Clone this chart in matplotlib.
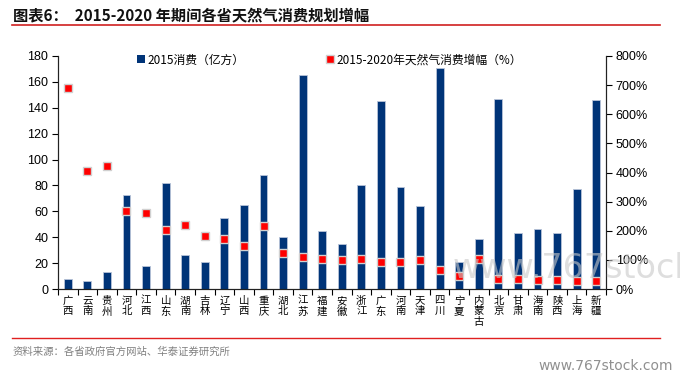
import numpy as np
import matplotlib
matplotlib.use("Agg")
import matplotlib.pyplot as plt
from matplotlib.patches import Rectangle
from matplotlib.lines import Line2D

plt.rcParams['font.family'] = ['Liberation Sans', 'Noto Sans CJK SC', 'DejaVu Sans']
cjk = ['Noto Sans CJK SC', 'DejaVu Sans']

provinces = ['广西', '云南', '贵州', '河北', '江西', '山东', '湖南', '吉林', '辽宁', '山西',
             '重庆', '湖北', '江苏', '福建', '安徽', '浙江', '广东', '河南', '天津', '四川',
             '宁夏', '内蒙古', '北京', '甘肃', '海南', '陕西', '上海', '新疆']
consumption_2015 = [8, 6, 13, 73, 18, 82, 26.5, 21, 55, 65,
                    88, 40, 165, 45, 34.5, 80, 145, 78.5, 64, 171,
                    20.5, 39, 146.5, 43, 46, 43, 77, 146]
growth_pct = [690, 404, 424, 269, 260, 204, 221, 181, 170, 146,
              218, 124, 111, 103, 101, 102, 93, 91, 101, 64,
              46, 104, 36, 34, 32, 32, 28, 26]

navy = '#003478'
red = '#ff0000'

fig = plt.figure(figsize=(6.8, 3.78), dpi=100)
ax = fig.add_axes([58/680, 1-289/378, 548/680, 233/378])
ax2 = ax.twinx()

x = np.arange(len(provinces))
ax.bar(x, consumption_2015, width=0.4, color=navy, edgecolor='#b8c4d8', linewidth=0.6, zorder=2)
ax2.plot(x, np.array(growth_pct) / 100, linestyle='none', marker='s', markersize=6,
         markerfacecolor=red, markeredgecolor='#d0d0d0', markeredgewidth=1.0, zorder=3)

ax.set_xlim(-0.5, len(provinces) - 0.5)
ax.set_ylim(0, 180)
ax.set_yticks(np.arange(0, 181, 20))
ax2.set_ylim(0, 8)
ax2.set_yticks(np.arange(0, 9, 1))
ax2.set_yticklabels([f'{v*100}%' for v in range(0, 9)])

ax.set_xticks(x)
ax.set_xticklabels(['\n'.join(p) for p in provinces], family=cjk, fontsize=7.5,
                   linespacing=1.05, va='top')
ax.set_xticks(np.arange(-0.5, len(provinces), 1), minor=True)
ax.tick_params(axis='x', which='major', length=0, pad=5)
ax.tick_params(axis='x', which='minor', length=4, direction='out', width=0.8)
ax.tick_params(axis='y', length=4, direction='out', width=0.8, labelsize=9, pad=3)
ax2.tick_params(axis='y', length=4, direction='out', width=0.8, labelsize=9, pad=3)

for a in (ax, ax2):
    a.spines['top'].set_visible(False)
    for s in ('left', 'right', 'bottom'):
        a.spines[s].set_color('#222222')
        a.spines[s].set_linewidth(0.8)

handles = [Rectangle((0, 0), 1, 1, facecolor=navy, edgecolor='none'),
           Line2D([], [], linestyle='none', marker='s', markersize=6,
                  markerfacecolor=red, markeredgecolor='#d0d0d0')]
labels = ['2015消费（亿方）', '2015-2020年天然气消费增幅（%）']
leg = ax.legend(handles, labels, ncol=2, frameon=False, loc='lower left',
                bbox_to_anchor=(0.135, 0.935), handlelength=0.7, handleheight=0.7,
                handletextpad=0.2, columnspacing=6.9, prop={'family': cjk, 'size': 8.5},
                borderaxespad=0)

# title and rules
fig.text(13/680, 1-15/378, '图表6：  2015-2020 年期间各省天然气消费规划增幅',
         family=cjk, fontsize=11, fontweight='bold', va='center', ha='left', color='#111111')
fig.add_artist(Line2D([12/680, 660/680], [1-25/378, 1-25/378], color='#d02020', linewidth=1.2))
fig.add_artist(Line2D([12/680, 660/680], [1-338/378, 1-338/378], color='#e02020', linewidth=1.0))
fig.text(13/680, 1-352/378, '资料来源：各省政府官方网站、华泰证券研究所',
         family=cjk, fontsize=7.5, va='center', ha='left', color='#808080')

# watermarks
fig.text(0.665, 1-268/378, 'www.767stock.com', fontsize=24, color='#c8c8c8', alpha=0.6,
         family='DejaVu Sans', va='center', ha='left')
fig.text(673/680, 1-366/378, 'www.767stock.com', fontsize=10, color='#909090',
         family='DejaVu Sans', va='center', ha='right')

fig.savefig('out.png', dpi=100)
